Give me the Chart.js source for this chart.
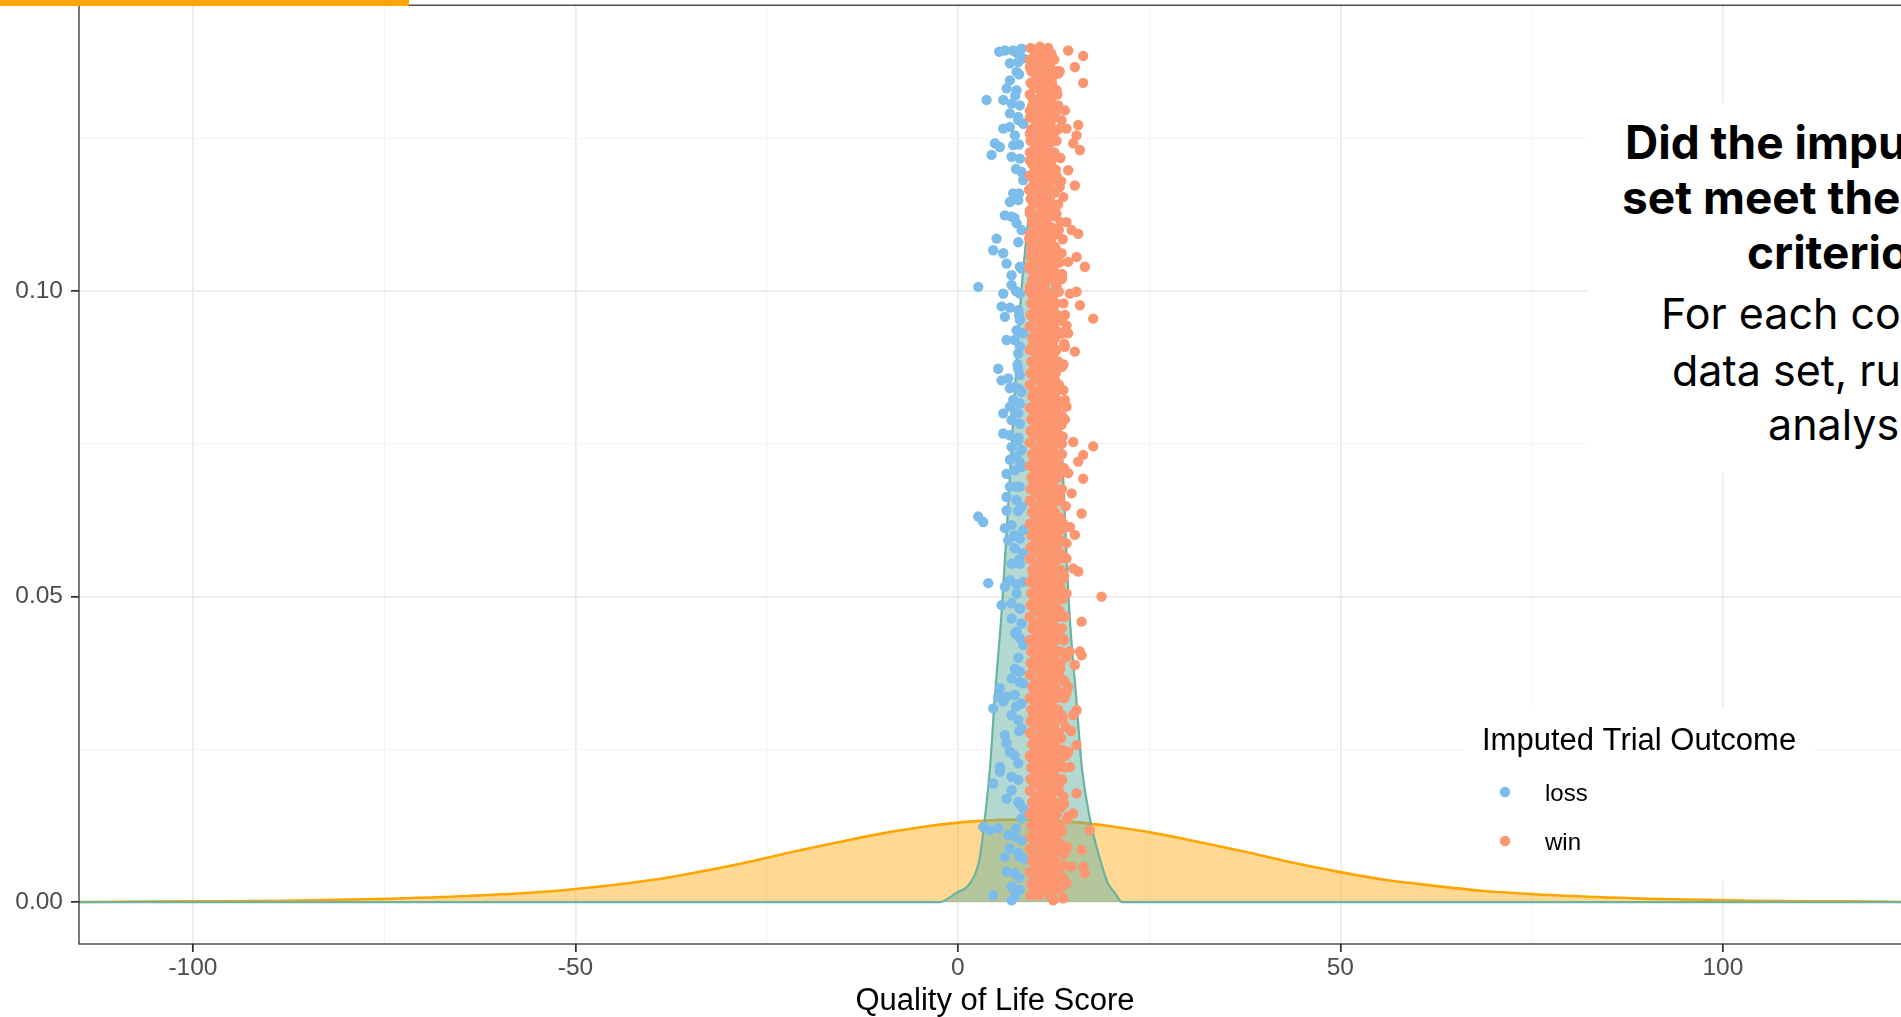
<!DOCTYPE html>
<html>
<head>
<meta charset="utf-8">
<title>Quality of Life Score – imputed outcomes</title>
<script src="https://cdn.jsdelivr.net/npm/chart.js@4.4.1/dist/chart.umd.min.js"></script>
<style>
  html, body { margin: 0; padding: 0; background: #fff; overflow: hidden; }
  #stage { position: relative; width: 1901px; height: 1017px; overflow: hidden; }
  #plot { position: absolute; left: 0; top: 0; }
  .topbar { position: absolute; left: 0; top: 0; width: 409px; height: 6px; background: #FFA500; }
  .notebox { position: absolute; left: 1588px; top: 103px; width: 340px; height: 370px; background: #fff; }
  .note { position: absolute; white-space: nowrap; font-family: Inter, "Open Sans", sans-serif; color: #000; line-height: 1; }
  .note.b { font-weight: 700; font-size: 46px; }
  .note.r { font-weight: 400; font-size: 43px; }
</style>
</head>
<body>
<div id="stage">
  <canvas id="plot" width="1921" height="1017"></canvas>
  <div class="topbar"></div>
  <div class="notebox"></div>
  <div class="note b" style="left:1625px; top:119px">Did the imputed data</div>
  <div class="note b" style="left:1622px; top:174px">set meet the success</div>
  <div class="note b" style="left:1747px; top:229px">criterion?</div>
  <div class="note r" style="left:1661px; top:292px">For each completed</div>
  <div class="note r" style="left:1672px; top:349px">data set, run the</div>
  <div class="note r" style="left:1768px; top:403px">analysis</div>
</div>
<script>
// ---- data ------------------------------------------------------------------

// wide density (observed distribution), sampled along the score axis
const observedX = [-115, -100, -88, -76, -64, -52, -40, -34, -28, -22, -16, -10, -4, 2, 8, 14,
  20, 26, 32, 38, 44, 50, 56, 62, 68, 80, 92, 104, 116, 125];
const observedDensity = [0.0000, 0.0001, 0.0002, 0.0005, 0.0010, 0.0019, 0.0036, 0.0049, 0.0064,
  0.0081, 0.0097, 0.0112, 0.0124, 0.0132, 0.0135, 0.0132, 0.0124, 0.0112, 0.0097, 0.0081, 0.0064,
  0.0049, 0.0036, 0.0027, 0.0019, 0.0010, 0.0005, 0.0002, 0.0001, 0.0000];

// narrow density of the imputed scores
const imputedX = [-115, -2.4, -0.2, 1.6, 2.8, 3.5, 4.2, 4.8, 5.8, 7.0, 8.2, 9.3, 10.3, 10.8, 11.2,
  11.8, 12.5, 13.6, 14.5, 15.5, 16.2, 17.3, 18.6, 19.6, 20.5, 21.5, 125];
const imputedDensity = [0, 0, 0.0015, 0.0031, 0.0069, 0.0134, 0.0221, 0.0330, 0.0490, 0.0740,
  0.0985, 0.1130, 0.1260, 0.1310, 0.1260, 0.1130, 0.0985, 0.0740, 0.0490, 0.0330, 0.0221, 0.0134,
  0.0069, 0.0031, 0.0015, 0, 0];

const outcomeLabels = ["loss", "win"];

// jittered imputed scores, [score, height]
const lossPoints = [
  [5.40,0.1392],[6.14,0.1394],[7.23,0.1394],[8.32,0.1397],[6.80,0.1373],[7.89,0.1375],[8.54,0.1381],
  [7.67,0.1359],[6.80,0.1345],[6.36,0.1332],[7.67,0.1329],[3.75,0.1313],[5.93,0.1313],[7.02,0.1307],
  [8.10,0.1304],[6.80,0.1291],[7.89,0.1285],[8.54,0.1274],[5.93,0.1266],[6.80,0.1269],[7.45,0.1255],
  [4.84,0.1242],[5.49,0.1236],[7.23,0.1239],[4.40,0.1223],[7.02,0.1220],[8.10,0.1217],[8.32,0.1195],
  [8.54,0.1182],[7.23,0.1160],[6.80,0.1146],[7.89,0.1149],[6.14,0.1124],[7.02,0.1122],[7.67,0.1111],
  [8.32,0.1100],[5.05,0.1086],[4.62,0.1067],[5.93,0.1062],[6.36,0.1045],[7.02,0.1026],[8.32,0.1037],
  [2.66,0.1007],[5.93,0.0996],[7.02,0.1010],[8.10,0.0996],
  [5.71,0.0975],[6.80,0.0973],[7.89,0.0969],[8.10,0.0953],[6.14,0.0958],[7.67,0.0936],[8.54,0.0931],
  [6.36,0.0920],[8.10,0.0909],[7.89,0.0898],[5.27,0.0873],[7.89,0.0873],[5.71,0.0854],[6.58,0.0857],
  [8.10,0.0863],[6.80,0.0841],[7.45,0.0843],[8.32,0.0835],[7.23,0.0822],[8.10,0.0816],[6.80,0.0811],
  [7.89,0.0800],[5.93,0.0800],[7.02,0.0789],[8.10,0.0783],[5.93,0.0767],[6.80,0.0764],[7.89,0.0756],
  [7.02,0.0745],[8.32,0.0740],[7.67,0.0729],[6.80,0.0724],[8.32,0.0712],[6.36,0.0701],[7.45,0.0707],
  [6.80,0.0680],[8.10,0.0680],[6.36,0.0663],[7.67,0.0658],[8.32,0.0647],[2.66,0.0631],[3.31,0.0622],
  [6.36,0.0641],[6.14,0.0612],[7.02,0.0617],[8.54,0.0609],[6.58,0.0592],[8.10,0.0595],[7.45,0.0579],
  [8.54,0.0571],[7.02,0.0554],[8.10,0.0554],[3.97,0.0522],[6.14,0.0516],[7.67,0.0505],[6.80,0.0527],
  [8.54,0.0524],
  [5.71,0.0486],[7.02,0.0489],[8.10,0.0481],[7.02,0.0464],[8.32,0.0456],[7.67,0.0442],[8.10,0.0432],
  [8.54,0.0421],[7.45,0.0382],[8.10,0.0377],[7.02,0.0366],[8.54,0.0358],[5.49,0.0350],[5.27,0.0336],
  [6.36,0.0336],[7.45,0.0339],[4.62,0.0317],[5.93,0.0328],[8.32,0.0325],[7.02,0.0306],[7.89,0.0298],
  [8.32,0.0284],[6.14,0.0273],[6.36,0.0260],[6.80,0.0246],[7.89,0.0227],[5.49,0.0221],[5.49,0.0213],
  [7.02,0.0205],[4.62,0.0194],[7.02,0.0183],[6.36,0.0169],[7.89,0.0164],[8.54,0.0153],[8.32,0.0137],
  [3.31,0.0123],[4.18,0.0118],[5.27,0.0121],[6.58,0.0110],[7.45,0.0107],[8.32,0.0101],[6.80,0.0088],
  [8.10,0.0074],[6.14,0.0074],[6.36,0.0050],[8.60,0.0071],[7.45,0.0047],[7.02,0.0025],[4.62,0.0011],
  [7.02,0.0003],[8.10,0.0020],
  [7.7,0.1390],[8.0,0.1355],[7.5,0.1320],[7.9,0.1280],[8.0,0.1240],[7.6,0.1200],[8.0,0.1160],
  [7.4,0.1120],[7.9,0.1080],[8.1,0.1040],[7.6,0.1000],[8.0,0.0960],[7.4,0.0920],[7.8,0.0880],
  [8.0,0.0840],[7.5,0.0800],[7.9,0.0760],[8.1,0.0720],[7.6,0.0680],[7.9,0.0640],[7.4,0.0600],
  [8.0,0.0560],[7.7,0.0520],[8.1,0.0480],[7.5,0.0440],[7.9,0.0400],[8.1,0.0360],[7.6,0.0320],
  [8.0,0.0280],[7.4,0.0240],[7.9,0.0200],[8.1,0.0160],[7.6,0.0120],[7.9,0.0080],[8.0,0.0040],
  [7.5,0.0010]
];

const winPoints = [
  [14.42,0.1394],[16.38,0.1385],[15.29,0.1367],[16.38,0.1341],[13.12,0.1356],[12.90,0.1329],
  [13.12,0.1304],[13.99,0.1296],[13.55,0.1280],[14.20,0.1266],[15.73,0.1272],[15.51,0.1255],
  [15.08,0.1242],[15.95,0.1231],[14.42,0.1198],[15.29,0.1173],[13.77,0.1154],[14.20,0.1113],
  [14.86,0.1100],[15.73,0.1094],[13.55,0.1062],[15.51,0.1056],[16.60,0.1040],[14.42,0.1048],
  [14.64,0.0996],[15.51,0.0999],
  [10.72,0.1400],[11.59,0.1392],[12.24,0.1386],[9.85,0.1381],[10.94,0.1375],[9.41,0.1367],
  [11.81,0.1367],[10.28,0.1354],[11.37,0.1345],[9.63,0.1340],[10.72,0.1334],[12.24,0.1324],
  [9.85,0.1313],[11.59,0.1313],[10.94,0.1302],[9.41,0.1296],[12.03,0.1291],[10.28,0.1280],
  [11.37,0.1269],[12.68,0.1261],[9.41,0.1258],[10.72,0.1250],[12.03,0.1242],[10.07,0.1233],
  [11.15,0.1225],[12.90,0.1220],[9.41,0.1214],[10.72,0.1206],[12.24,0.1198],[9.85,0.1193],
  [11.59,0.1184],[10.28,0.1171],[9.30,0.1166],[12.46,0.1163],[11.15,0.1154],[9.85,0.1143],
  [11.59,0.1135],[12.90,0.1127],[9.41,0.1127],[10.72,0.1116],[12.03,0.1105],[10.07,0.1094],
  [9.30,0.1086],[11.37,0.1083],[12.68,0.1073],[9.63,0.1067],[10.72,0.1056],[12.03,0.1045],
  [9.30,0.1040],[10.28,0.1029],[11.59,0.1023],[12.90,0.1015],[9.41,0.1007],[10.72,0.1002],
  [12.24,0.0993],
  [15.95,0.0977],[17.69,0.0955],[13.99,0.0961],[14.20,0.0944],[14.42,0.0931],[13.99,0.0909],
  [15.29,0.0901],[12.90,0.0882],[12.68,0.0854],[13.99,0.0822],[14.20,0.0811],[13.55,0.0797],
  [13.55,0.0781],[15.08,0.0753],[17.69,0.0746],[16.38,0.0732],[15.73,0.0721],[14.42,0.0702],
  [16.38,0.0693],[14.86,0.0669],[16.17,0.0636],[14.64,0.0614],[15.29,0.0601],[14.20,0.0587],
  [13.99,0.0565],[15.08,0.0546],[15.73,0.0541],[14.20,0.0505],[18.78,0.0500],
  [16.17,0.0459],[15.95,0.0410],[16.17,0.0404],[15.29,0.0388],[14.42,0.0352],[14.20,0.0342],
  [15.51,0.0314],[15.08,0.0306],[15.51,0.0257],[14.42,0.0246],[14.64,0.0221],[15.51,0.0178],
  [15.08,0.0145],[17.25,0.0118],[16.17,0.0085],[16.38,0.0058],[16.60,0.0047],[14.86,0.0058],
  [14.20,0.0031],[12.46,0.0003],[13.77,0.0006],
  [13.6,0.0470],[13.9,0.0430],[13.4,0.0390],[14.0,0.0360],[13.7,0.0300],[13.3,0.0270],[14.1,0.0240],
  [13.6,0.0200],[13.9,0.0160],[13.4,0.0120],[14.3,0.0090],[13.8,0.0060],[13.2,0.0020],[14.6,0.0410],
  [14.8,0.0280],[14.4,0.0140],[13.5,0.0930],[13.8,0.0880],[13.4,0.0840],[13.6,0.0750],[13.9,0.0710],
  [13.3,0.0660],[13.7,0.0610],[13.4,0.0570],[13.8,0.0530],[13.3,0.1360],[13.5,0.1180],[13.2,0.1100],
  [13.6,0.1020]
];

// dense part of the "win" column: [height, score, score, ...]
const winCore = [
  [0.1398, 9.5, 10.6, 11.8], [0.1389, 10.1, 11.3, 12.2], [0.1379, 9.4, 10.5, 11.7, 12.6],
  [0.1370, 9.9, 11.1, 12.0], [0.1360, 9.6, 10.8, 11.9, 12.9], [0.1351, 10.2, 11.4, 12.4],
  [0.1341, 9.5, 10.6, 11.5, 12.3], [0.1332, 10.0, 11.2, 12.6], [0.1322, 9.4, 10.9, 11.8, 13.0],
  [0.1313, 10.1, 11.3, 12.2], [0.1303, 9.7, 10.7, 11.6, 12.4], [0.1294, 9.9, 11.1, 12.8],
  [0.1284, 9.4, 10.5, 11.7, 12.5], [0.1275, 10.2, 11.4, 12.1], [0.1265, 9.6, 10.8, 11.9, 13.1],
  [0.1256, 10.0, 11.2, 12.3], [0.1246, 9.5, 10.6, 12.0, 12.9], [0.1237, 10.1, 11.3],
  [0.1227, 9.4, 10.9, 11.8, 12.6], [0.1218, 9.9, 11.1, 12.4, 13.4], [0.1208, 9.7, 10.7, 11.6, 12.2],
  [0.1199, 10.2, 11.4, 12.8], [0.1189, 9.4, 10.5, 11.7, 12.9], [0.1180, 10.0, 11.2, 12.3],
  [0.1170, 9.6, 10.8, 11.9, 13.3], [0.1161, 10.1, 11.3, 12.6], [0.1151, 9.5, 10.6, 12.0],
  [0.1142, 9.9, 11.1, 12.4, 13.1], [0.1132, 9.4, 10.9, 11.8, 12.7], [0.1123, 10.2, 11.4, 12.5],
  [0.1113, 9.7, 10.7, 11.6, 13.4], [0.1104, 10.0, 11.2, 12.3], [0.1094, 9.4, 10.5, 11.7, 12.9],
  [0.1085, 10.1, 11.3, 12.2, 13.7], [0.1075, 9.6, 10.8, 11.9], [0.1066, 9.9, 11.1, 12.4, 13.0],
  [0.1056, 9.5, 10.6, 12.0, 12.8], [0.1047, 10.2, 11.4, 13.3], [0.1037, 9.4, 10.9, 11.8, 12.5],
  [0.1028, 10.0, 11.2, 12.3, 13.6], [0.1018, 9.7, 10.7, 11.6, 12.7], [0.1009, 10.1, 11.3, 12.9],
  [0.0999, 9.4, 10.5, 11.7, 13.2], [0.0990, 9.9, 11.1, 12.4], [0.0980, 9.6, 10.8, 11.9, 12.8, 13.8],
  [0.0971, 10.2, 11.4, 12.5], [0.0961, 9.5, 10.6, 12.0, 13.0], [0.0952, 10.0, 11.2, 12.3, 13.5],
  [0.0942, 9.4, 10.9, 11.8, 12.6], [0.0933, 10.1, 11.3, 12.2, 13.2], [0.0923, 9.7, 10.7, 11.6, 12.7],
  [0.0914, 9.9, 11.1, 12.4, 13.9], [0.0904, 9.4, 10.5, 11.7, 12.9], [0.0895, 10.2, 11.4, 12.5],
  [0.0885, 9.6, 10.8, 11.9, 13.1], [0.0876, 10.0, 11.2, 12.3, 13.6], [0.0866, 9.5, 10.6, 12.0, 12.8],
  [0.0857, 10.1, 11.3, 12.6], [0.0847, 9.4, 10.9, 11.8, 13.2], [0.0838, 9.9, 11.1, 12.4, 13.8],
  [0.0828, 9.7, 10.7, 11.6, 12.7], [0.0819, 10.2, 11.4, 12.5, 13.3], [0.0809, 9.4, 10.5, 11.7, 12.9],
  [0.0800, 10.0, 11.2, 12.3], [0.0790, 9.6, 10.8, 11.9, 13.0, 14.0], [0.0781, 10.1, 11.3, 12.2, 13.4],
  [0.0771, 9.5, 10.6, 12.0, 12.8], [0.0762, 9.9, 11.1, 12.4, 13.7], [0.0752, 9.4, 10.9, 11.8, 13.2],
  [0.0743, 10.2, 11.4, 12.5], [0.0733, 9.7, 10.7, 11.6, 12.7, 13.6], [0.0724, 10.0, 11.2, 12.3, 13.1],
  [0.0714, 9.4, 10.5, 11.7, 12.9], [0.0705, 10.1, 11.3, 12.6, 13.9], [0.0695, 9.6, 10.8, 11.9, 13.1],
  [0.0686, 9.9, 11.1, 12.4], [0.0676, 9.5, 10.6, 12.0, 12.8, 13.6], [0.0667, 10.2, 11.4, 12.5, 13.3],
  [0.0657, 9.4, 10.9, 11.8, 13.2], [0.0648, 10.0, 11.2, 12.3, 14.1], [0.0638, 9.7, 10.7, 11.6, 12.7],
  [0.0629, 10.1, 11.3, 12.2, 13.4], [0.0619, 9.4, 10.5, 11.7, 12.9, 13.8], [0.0610, 9.9, 11.1, 12.4],
  [0.0600, 9.6, 10.8, 11.9, 13.0], [0.0591, 10.2, 11.4, 12.5, 13.6], [0.0581, 9.5, 10.6, 12.0, 12.8],
  [0.0572, 10.0, 11.2, 12.3, 13.3], [0.0562, 9.4, 10.9, 11.8, 13.2, 14.2], [0.0553, 10.1, 11.3, 12.6],
  [0.0543, 9.7, 10.7, 11.6, 12.7, 13.5], [0.0534, 9.9, 11.1, 12.4, 13.9], [0.0524, 9.4, 10.5, 11.7, 12.9],
  [0.0515, 10.2, 11.4, 12.5, 13.4], [0.0505, 9.6, 10.8, 11.9, 13.1], [0.0496, 10.0, 11.2, 12.3, 13.7],
  [0.0486, 9.5, 10.6, 12.0, 12.8], [0.0477, 10.1, 11.3, 12.2, 13.3], [0.0467, 9.4, 10.9, 11.8, 13.2, 14.0],
  [0.0458, 9.9, 11.1, 12.4], [0.0448, 9.7, 10.7, 11.6, 12.7, 13.6], [0.0439, 10.2, 11.4, 12.5, 13.1],
  [0.0429, 9.4, 10.5, 11.7, 12.9, 13.9], [0.0420, 10.0, 11.2, 12.3], [0.0410, 9.6, 10.8, 11.9, 13.0, 13.5],
  [0.0401, 10.1, 11.3, 12.6, 14.2], [0.0391, 9.5, 10.6, 12.0, 12.8], [0.0382, 9.9, 11.1, 12.4, 13.4],
  [0.0372, 9.4, 10.9, 11.8, 13.2], [0.0363, 10.2, 11.4, 12.5, 13.8], [0.0353, 9.7, 10.7, 11.6, 12.7],
  [0.0344, 10.0, 11.2, 12.3, 13.3], [0.0334, 9.4, 10.5, 11.7, 12.9, 13.9], [0.0325, 10.1, 11.3, 12.2],
  [0.0315, 9.6, 10.8, 11.9, 13.1], [0.0306, 9.9, 11.1, 12.4, 13.6], [0.0296, 9.5, 10.6, 12.0, 12.8],
  [0.0287, 10.2, 11.4, 12.5, 14.1], [0.0277, 9.4, 10.9, 11.8, 13.2], [0.0268, 10.0, 11.2, 12.3, 13.5],
  [0.0258, 9.7, 10.7, 11.6, 12.7], [0.0249, 10.1, 11.3, 12.6, 13.7], [0.0239, 9.4, 10.5, 11.7, 12.9],
  [0.0230, 9.9, 11.1, 12.4, 13.3], [0.0220, 9.6, 10.8, 11.9, 13.0, 14.0], [0.0211, 10.2, 11.4, 12.5],
  [0.0201, 9.5, 10.6, 12.0, 12.8, 13.6], [0.0192, 10.0, 11.2, 12.3, 13.2], [0.0182, 9.4, 10.9, 11.8, 13.2],
  [0.0173, 10.1, 11.3, 12.2, 13.8], [0.0163, 9.7, 10.7, 11.6, 12.7], [0.0154, 9.9, 11.1, 12.4, 13.4],
  [0.0144, 9.4, 10.5, 11.7, 12.9], [0.0135, 10.2, 11.4, 12.5, 14.2], [0.0125, 9.6, 10.8, 11.9, 13.1],
  [0.0116, 10.0, 11.2, 12.3, 13.6], [0.0106, 9.5, 10.6, 12.0, 12.8], [0.0097, 10.1, 11.3, 12.6, 13.3],
  [0.0087, 9.4, 10.9, 11.8, 13.2], [0.0078, 9.9, 11.1, 12.4, 13.9], [0.0068, 9.7, 10.7, 11.6, 12.7],
  [0.0059, 10.2, 11.4, 12.5, 13.5], [0.0049, 9.4, 10.5, 11.7, 12.9], [0.0040, 10.0, 11.2, 12.3, 13.7],
  [0.0030, 9.6, 10.8, 11.9, 13.0], [0.0021, 10.1, 11.3, 12.2, 13.4], [0.0011, 9.5, 10.6, 12.0]
];

// axes
const xMajorTicks = [-100, -50, 0, 50, 100];
const xMinorTicks = [-75, -25, 25, 75];
const yMajorTicks = [0, 0.05, 0.1];
const yMinorTicks = [0.025, 0.075, 0.125];
const xRange = [-114.9, 124.6];
const yRange = [-0.00687, 0.14681];

// ---- styling ---------------------------------------------------------------

const SANS = '"Liberation Sans", Arial, Helvetica, sans-serif';
const COL = {
  observedLine: "#FFA500",
  observedFill: "rgba(255,165,0,0.42)",
  imputedLine: "#69B3A2",
  imputedFill: "rgba(105,179,162,0.5)",
  loss: "#7CBCEB",
  win: "#FC9670",
  gridMajor: "#EBEBEB",
  gridMinor: "#F4F4F4",
  tick: "#333333",
  tickText: "#4D4D4D",
  frame: "#333333",
};
const POINT_R = 5.2;

Chart.defaults.font.family = SANS;

const toXY = (xs, ys) => xs.map((x, i) => ({ x: x, y: ys[i] }));
const pairsToXY = (pairs) => pairs.map((p) => ({ x: p[0], y: p[1] }));
const rowsToXY = (rows) => {
  const out = [];
  rows.forEach((r) => { for (let i = 1; i < r.length; i++) out.push({ x: r[i], y: r[0] }); });
  return out;
};

const isMajor = (list, v) => list.some((m) => Math.abs(m - v) < 1e-9);

// panel frame on top of the marks, ggplot style
const panelFrame = {
  id: "panelFrame",
  afterDatasetsDraw(chart) {
    const { ctx, chartArea: a } = chart;
    ctx.save();
    ctx.strokeStyle = COL.frame;
    ctx.lineWidth = 1.3;
    ctx.strokeRect(a.left, a.top, a.right - a.left, a.bottom - a.top);
    ctx.restore();
  },
};

// legend for the point layers, boxed inside the panel
const outcomeLegend = {
  id: "outcomeLegend",
  afterDraw(chart, args, opts) {
    const { ctx } = chart;
    const box = opts.box;
    ctx.save();
    ctx.fillStyle = "#fff";
    ctx.fillRect(box.left, box.top, box.right - box.left, box.bottom - box.top);
    ctx.fillStyle = "#000";
    ctx.textBaseline = "alphabetic";
    ctx.font = "31px " + SANS;
    ctx.fillText(opts.title, box.left + 17, box.top + 43);
    const pointSets = chart.data.datasets.filter((d) => outcomeLabels.includes(d.label));
    pointSets.forEach((d, i) => {
      const cy = box.top + 85 + i * 49;
      ctx.beginPath();
      ctx.fillStyle = d.backgroundColor;
      ctx.arc(box.left + 40, cy, POINT_R, 0, Math.PI * 2);
      ctx.fill();
      ctx.fillStyle = "#000";
      ctx.font = "24px " + SANS;
      ctx.fillText(d.label, box.left + 80, cy + 9);
    });
    ctx.restore();
  },
};

// drop the half-label overhang Chart.js reserves, so the panel fills the canvas
const noOverhang = (s) => {
  s.paddingTop = 0; s.paddingBottom = 0; s.paddingLeft = 0; s.paddingRight = 0;
};

const ctx = document.getElementById("plot").getContext("2d");
new Chart(ctx, {
  type: "scatter",
  data: {
    datasets: [
      {
        type: "line",
        label: "observed",
        data: toXY(observedX, observedDensity),
        borderColor: COL.observedLine,
        backgroundColor: COL.observedFill,
        borderWidth: 2.6,
        fill: "origin",
        pointRadius: 0,
        cubicInterpolationMode: "monotone",
        order: 4,
      },
      {
        type: "line",
        label: "imputed",
        data: toXY(imputedX, imputedDensity),
        borderColor: COL.imputedLine,
        backgroundColor: COL.imputedFill,
        borderWidth: 2.2,
        fill: "origin",
        pointRadius: 0,
        cubicInterpolationMode: "monotone",
        order: 3,
      },
      {
        label: outcomeLabels[0],
        data: pairsToXY(lossPoints),
        backgroundColor: COL.loss,
        borderWidth: 0,
        pointRadius: POINT_R,
        order: 2,
      },
      {
        label: outcomeLabels[1],
        data: pairsToXY(winPoints).concat(rowsToXY(winCore)),
        backgroundColor: COL.win,
        borderWidth: 0,
        pointRadius: POINT_R,
        order: 1,
      },
    ],
  },
  options: {
    responsive: false,
    animation: false,
    events: [],
    layout: { padding: { top: 5, right: 10, left: 0, bottom: 0 } },
    plugins: {
      legend: { display: false },
      tooltip: { enabled: false },
      outcomeLegend: {
        title: "Imputed Trial Outcome",
        box: { left: 1465, top: 707, right: 1813, bottom: 881 },
      },
    },
    scales: {
      x: {
        type: "linear",
        min: xRange[0],
        max: xRange[1],
        afterBuildTicks: (s) => {
          s.ticks = xMajorTicks.concat(xMinorTicks).sort((a, b) => a - b).map((v) => ({ value: v }));
        },
        afterFit: (s) => { s.height = 73; noOverhang(s); },
        border: { display: false },
        grid: {
          color: (c) => (isMajor(xMajorTicks, c.tick.value) ? COL.gridMajor : COL.gridMinor),
          lineWidth: (c) => (isMajor(xMajorTicks, c.tick.value) ? 1.7 : 1.1),
          tickColor: (c) => (isMajor(xMajorTicks, c.tick.value) ? COL.tick : "rgba(0,0,0,0)"),
          tickWidth: 1.8,
          tickLength: 8,
        },
        ticks: {
          autoSkip: false,
          maxRotation: 0,
          minRotation: 0,
          padding: 2,
          color: COL.tickText,
          font: { size: 24.5 },
          callback: (v) => (isMajor(xMajorTicks, v) ? String(v) : ""),
        },
        title: {
          display: true,
          text: "Quality of Life Score",
          color: "#000",
          font: { size: 31, lineHeight: 1 },
          padding: { top: 0, bottom: 0 },
        },
      },
      y: {
        type: "linear",
        min: yRange[0],
        max: yRange[1],
        afterBuildTicks: (s) => {
          s.ticks = yMajorTicks.concat(yMinorTicks).sort((a, b) => a - b).map((v) => ({ value: v }));
        },
        afterFit: (s) => { s.width = 79; noOverhang(s); },
        border: { display: false },
        grid: {
          color: (c) => (isMajor(yMajorTicks, c.tick.value) ? COL.gridMajor : COL.gridMinor),
          lineWidth: (c) => (isMajor(yMajorTicks, c.tick.value) ? 1.7 : 1.1),
          tickColor: (c) => (isMajor(yMajorTicks, c.tick.value) ? COL.tick : "rgba(0,0,0,0)"),
          tickWidth: 1.8,
          tickLength: 8,
        },
        ticks: {
          autoSkip: false,
          padding: 8,
          color: COL.tickText,
          font: { size: 24.5 },
          callback: (v) => (isMajor(yMajorTicks, v) ? v.toFixed(2) : ""),
        },
      },
    },
  },
  plugins: [panelFrame, outcomeLegend],
});
</script>
</body>
</html>
